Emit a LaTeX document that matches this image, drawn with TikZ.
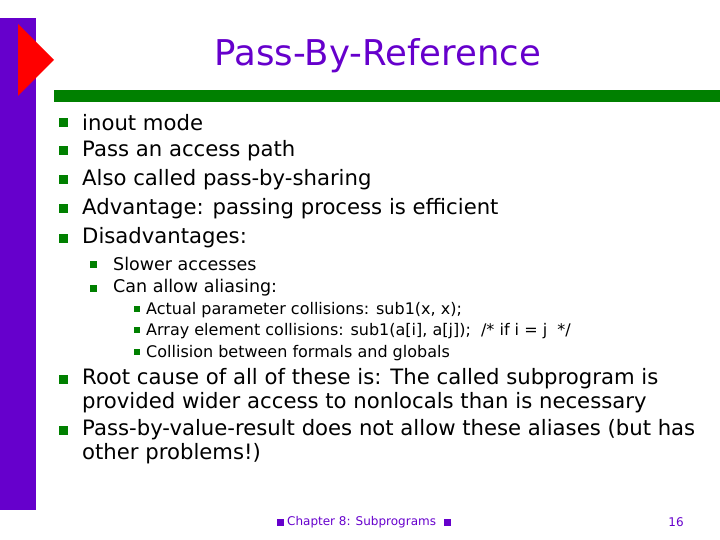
\documentclass[tikz,border=0pt]{standalone}
\usepackage{fontspec}
\setmainfont{DejaVu Sans}
\definecolor{pur}{RGB}{102,0,204}
\definecolor{grn}{RGB}{0,128,0}
\begin{document}
\begin{tikzpicture}[x=1pt,y=-1pt,
  t1/.style={anchor=west,inner sep=0,font=\fontsize{21.2}{24}\selectfont},
  t2/.style={anchor=west,inner sep=0,font=\fontsize{17.5}{20}\selectfont},
  t3/.style={anchor=west,inner sep=0,font=\fontsize{16}{18}\selectfont},
  b1/.style={fill=grn,minimum size=9pt,inner sep=0},
  b2/.style={fill=grn,minimum size=7pt,inner sep=0},
  b3/.style={fill=grn,minimum size=6pt,inner sep=0}]
\useasboundingbox (0,0) rectangle (720,540);
\fill[pur] (0,18) rectangle (36,510);
\fill[red] (18,24) -- (54,60) -- (18,96) -- cycle;
\fill[grn] (54,90) rectangle (720,102);
\node[text=pur,font=\fontsize{35.5}{40}\selectfont,inner sep=0] (title) at (378,56) {Pass-By-Reference};
\foreach \y/\t [count=\i] in {123/inout mode,151/Pass an access path,180/Also called pass-by-sharing,209/Advantage: passing process is efficient,238/Disadvantages:}{
  \node[b1] (s\i) at (63,\y) {};
  \node[t1] (l\i) at (82,\y) {\t};
}
\node[b2] (s6) at (93,264) {}; \node[t2] (l6) at (113,264) {Slower accesses};
\node[b2] (s7) at (93,288) {}; \node[t2] (l7) at (113,288) {Can allow aliasing:};
\node[b3] (s8) at (137,309) {}; \node[t3] (l8) at (146,310) {Actual parameter collisions: sub1(x, x);};
\node[b3] (s9) at (137,330) {}; \node[t3] (l9) at (146,331) {Array element collisions: sub1(a[i], a[j]);\ \ /* if i = j\ \ */};
\node[b3] (s10) at (137,352) {}; \node[t3] (l10) at (146,353) {Collision between formals and globals};
\node[b1] (s11) at (63,379) {};
\node[t1] (l11) at (82,379) {Root cause of all of these is: The called subprogram is};
\node[t1] (l11b) at (82,403) {provided wider access to nonlocals than is necessary};
\node[b1] (s12) at (63,430) {};
\node[t1] (l12) at (82,430) {Pass-by-value-result does not allow these aliases (but has};
\node[t1] (l12b) at (82,454) {other problems!)};
\node[fill=pur,minimum size=7pt,inner sep=0] (f1) at (280,522) {};
\node[text=pur,font=\fontsize{12}{14}\selectfont,inner sep=0,anchor=west] (ft) at (287,522) {Chapter 8: Subprograms};
\node[fill=pur,minimum size=7pt,inner sep=0] (f2) at (447,522) {};
\node[text=pur,font=\fontsize{12}{14}\selectfont,inner sep=0] (pg) at (676,522) {16};
\end{tikzpicture}
\end{document}
